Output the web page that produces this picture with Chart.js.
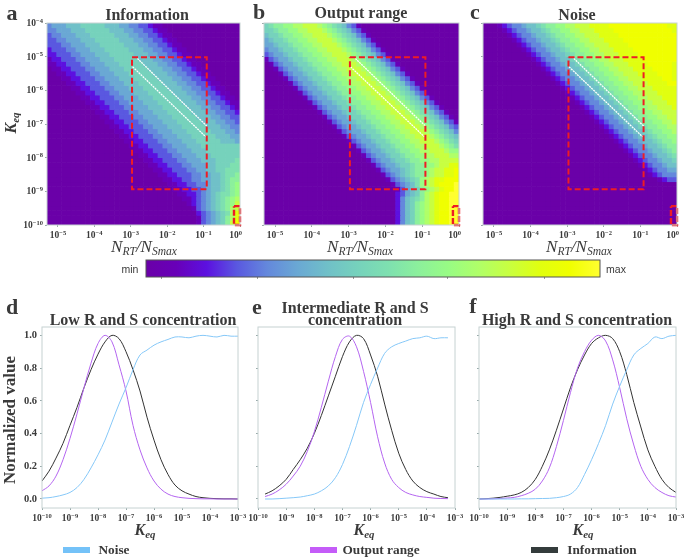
<!DOCTYPE html>
<html>
<head>
<meta charset="utf-8">
<script src="https://cdn.jsdelivr.net/npm/chart.js@4"></script>
<style>
  body { margin: 0; background: #fff; }
  #page { position: relative; width: 685px; height: 558px; overflow: hidden; filter: blur(0.35px); }
  canvas { position: absolute; }
  .t { position: absolute; transform: translate(-50%, -50%); white-space: nowrap; font-family: "Liberation Serif", serif; color: #3a3a3a; font-weight: bold; }
  .t sub { font-size: 68%; vertical-align: -0.3em; line-height: 0; }
  .rot { transform: translate(-50%, -50%) rotate(-90deg); }
  .swatch { position: absolute; height: 6px; width: 27px; }
</style>
</head>
<body>
<div id="page"></div>
<script>
// Heatmap values, one string per row from top (Keq 1e-4) to bottom (1e-10), one hex level per cell
const infoRows = [
  "4555666777 7766655443 3211000000 0000000000",
  "4455566677 7776665544 3321100000 0000000000",
  "3445556667 7777666554 4332110000 0000000000",
  "3344555666 7777766655 4433211000 0000000000",
  "3334455566 6777776665 5443321100 0000000000",
  "2333445556 6677777666 5544332110 0000000000",
  "2233344555 6667777766 6554433211 0000000000",
  "1223334455 5666777776 6655443321 1000000000",
  "1122333445 5566677777 6665544332 1100000000",
  "0112233344 5556667777 7666554433 2110000000",
  "0011223334 4555666777 7766655443 3211000000",
  "0001122333 4455566677 7776665544 3321100000",
  "0000112233 3445556667 7777666554 4332110000",
  "0000011223 3344555666 7777766655 4433211000",
  "0000001122 3334455566 6777776665 5443321100",
  "0000000112 2333445556 6677777666 5544332110",
  "0000000011 2233344555 6667777766 6554433211",
  "0000000001 1223334455 5666777776 6655443321",
  "0000000000 1122333445 5566677777 6665544332",
  "0000000000 0112233344 5556667777 7666554433",
  "0000000000 0011223334 4555666777 7766655443",
  "0000000000 0001122333 4455566677 7776665544",
  "0000000000 0000112233 3445556667 7777666554",
  "0000000000 0000011223 3344555666 7777766655",
  "0000000000 0000001122 3334455566 6777776665",
  "0000000000 0000000112 2333445556 6677777777",
  "0000000000 0000000011 2233344555 6667777777",
  "0000000000 0000000001 1223334455 5666777777",
  "0000000000 0000000000 1122333445 5566677778",
  "0000000000 0000000000 0112233344 5556677788",
  "0000000000 0000000000 0011223334 4556677888",
  "0000000000 0000000000 0001122333 4455667889",
  "0000000000 0000000000 0000112233 4455667899",
  "0000000000 0000000000 0000011223 344566789a",
  "0000000000 0000000000 0000001122 334566789a",
  "0000000000 0000000000 0000000112 234567889a",
  "0000000000 0000000000 0000000011 23456789ab",
  "0000000000 0000000000 0000000001 23456789ac",
  "0000000000 0000000000 0000000000 13456789bc",
  "0000000000 0000000000 0000000000 02345678bd",
  "0000000000 0000000000 0000000000 01345679bd",
  "0000000000 0000000000 0000000000 01345679ce"
];
const rangeRows = [
  "7899aabbcc cba9876431 0000000000 0000000000",
  "77899aabbc ccba987643 1000000000 0000000000",
  "677899aabb cccba98764 3100000000 0000000000",
  "5677899aab bcccba9876 4310000000 0000000000",
  "55677899aa bbcccba987 6431000000 0000000000",
  "455677899a abbcccba98 7643100000 0000000000",
  "3455677899 aabbcccba9 8764310000 0000000000",
  "1345567789 9aabbcccba 9876431000 0000000000",
  "0134556778 99aabbcccb a987643100 0000000000",
  "0013455677 899aabbccc ba98764310 0000000000",
  "0001345567 7899aabbcc cba9876431 0000000000",
  "0000134556 77899aabbc ccba987643 1000000000",
  "0000013455 677899aabb cccba98764 3100000000",
  "0000001345 5677899aab bcccba9876 4310000000",
  "0000000134 55677899aa bbcccba987 6431000000",
  "0000000013 455677899a abbcccba98 7643100000",
  "0000000001 3455677899 aabbcccba9 8764310000",
  "0000000000 1345567789 9aabbcccba 9876431000",
  "0000000000 0134556778 99aabbcccb a987643100",
  "0000000000 0013455677 899aabbccc ba98764310",
  "0000000000 0001345567 7899aabbcc cba9876431",
  "0000000000 0000134556 77899aabbc ccba987643",
  "0000000000 0000013455 677899aabb cccba98764",
  "0000000000 0000001345 5677899aab bcccba9876",
  "0000000000 0000000134 55677899aa bbcccba987",
  "0000000000 0000000013 455677899a abbcccba98",
  "0000000000 0000000001 3455677899 aabbcccbaa",
  "0000000000 0000000000 1345567789 9aabbcccbb",
  "0000000000 0000000000 0134556778 99aabbcccc",
  "0000000000 0000000000 0013455677 899aabccdd",
  "0000000000 0000000000 0001345567 899abccdde",
  "0000000000 0000000000 0000134567 899abccdde",
  "0000000000 0000000000 0000013456 78abcddeee",
  "0000000000 0000000000 0000001345 68abcdeeef",
  "0000000000 0000000000 0000000135 679abcdeef",
  "0000000000 0000000000 0000000235 679bcdeeff",
  "0000000000 0000000000 0000000246 789bcdeeff",
  "0000000000 0000000000 0000000246 79abcdeeff",
  "0000000000 0000000000 0000000246 79abcdeeff",
  "0000000000 0000000000 0000000246 79abcdeeff",
  "0000000000 0000000000 0000000246 79abcdeeff",
  "0000000000 0000000000 0000000246 79abcdeeff"
];
const noiseRows = [
  "0001234456 67899aabbc ccddddeeee eeeeeeeedd",
  "0000123445 667899aabb cccddddeee eeeeeeeeed",
  "0000012344 5667899aab bcccddddee eeeeeeeeee",
  "0000001234 45667899aa bbcccdddde eeeeeeeeee",
  "0000000123 445667899a abbcccdddd eeeeeeeeee",
  "0000000012 3445667899 aabbcccddd deeeeeeeee",
  "0000000001 2344566789 9aabbcccdd ddeeeeeeee",
  "0000000000 1234456678 99aabbcccd dddeeeeeee",
  "0000000000 0123445667 899aabbccc ddddeeeeed",
  "0000000000 0012344566 7899aabbcc cddddeeeed",
  "0000000000 0001234456 67899aabbc ccddddeeed",
  "0000000000 0000123445 667899aabb cccddddeed",
  "0000000000 0000012344 5667899aab bcccddddee",
  "0000000000 0000001234 45667899aa bbcccddddd",
  "0000000000 0000000123 445667899a abbcccdddd",
  "0000000000 0000000012 3445667899 aabbcccddd",
  "0000000000 0000000001 2344566789 9aabbcccdd",
  "0000000000 0000000000 1234456678 99aabbcccd",
  "0000000000 0000000000 0123445667 899aabbccc",
  "0000000000 0000000000 0012344566 7899aabbcc",
  "0000000000 0000000000 0001234456 67899aabbc",
  "0000000000 0000000000 0000123445 667899aabb",
  "0000000000 0000000000 0000012344 5667899aab",
  "0000000000 0000000000 0000001234 45667899aa",
  "0000000000 0000000000 0000000123 445667899a",
  "0000000000 0000000000 0000000012 3445667899",
  "0000000000 0000000000 0000000001 2344566789",
  "0000000000 0000000000 0000000000 1234456678",
  "0000000000 0000000000 0000000000 0123445667",
  "0000000000 0000000000 0000000000 0012344566",
  "0000000000 0000000000 0000000000 0001234455",
  "0000000000 0000000000 0000000000 0000123444",
  "0000000000 0000000000 0000000000 0000001233",
  "0000000000 0000000000 0000000000 0000000000",
  "0000000000 0000000000 0000000000 0000000000",
  "0000000000 0000000000 0000000000 0000000000",
  "0000000000 0000000000 0000000000 0000000000",
  "0000000000 0000000000 0000000000 0000000000",
  "0000000000 0000000000 0000000000 0000000000",
  "0000000000 0000000000 0000000000 0000000000",
  "0000000000 0000000000 0000000000 0000000000",
  "0000000000 0000000000 0000000000 0000000000"
];

// Colours for levels 0..f, same list makes the colour bar
const levelColors = ["#6a00a8", "#6800b8", "#5c10e0", "#5a58e0", "#6488dc", "#6aa8d4", "#70c0c8", "#76d2bc",
  "#7ee0b0", "#8cf09c", "#98fc84", "#b0ff68", "#c8ff40", "#e0ff10", "#f0ff00", "#ffff30"];

// Axis ticks, exponents of ten
const heatXTicks = [-5, -4, -3, -2, -1, 0];
const heatYTicks = [-4, -5, -6, -7, -8, -9, -10];
const keqTicks = [-10, -9, -8, -7, -6, -5, -4, -3];
const normTicks = [0, 0.2, 0.4, 0.6, 0.8, 1];
const normLabels = ["0.0", "0.2", "0.4", "0.6", "0.8", "1.0"];

// Overlays on the heatmaps, in log10 units
const boxX = [-2.965, -0.913, -0.913, -2.965, -2.965];
const boxY = [-5.02, -5.02, -8.94, -8.94, -5.02];
const cornerX = [-0.165, 0, 0, -0.165, -0.165];
const cornerY = [-9.44, -9.44, -10, -10, -9.44];
const upperX = [-2.82, -0.913];
const upperY = [-5.05, -7.06];
const lowerX = [-2.95, -0.94];
const lowerY = [-5.3, -7.38];

// Line panels
const keqFull = [-10, -9.75, -9.5, -9.25, -9, -8.75, -8.5, -8.25, -8, -7.75, -7.5, -7.25, -7, -6.75, -6.5, -6.25, -6, -5.75, -5.5, -5.25, -5, -4.75, -4.5, -4.25, -4, -3.75, -3.5, -3.25, -3];
const keqMid = [-9.75, -9.5, -9.25, -9, -8.75, -8.5, -8.25, -8, -7.75, -7.5, -7.25, -7, -6.75, -6.5, -6.25, -6, -5.75, -5.5, -5.25, -5, -4.75, -4.5, -4.25, -4, -3.75, -3.5, -3.25];

const infoLow = [.11, .17, .25, .34, .45, .56, .68, .79, .885, .96, 1, .98, .9, .79, .66, .5, .36, .24, .15, .085, .05, .03, .015, .008, .004, .002, .001, .001, 0];
const rangeLow = [.05, .08, .14, .24, .37, .52, .68, .83, .95, 1, .96, .82, .66, .45, .3, .19, .11, .06, .03, .015, .008, .004, .002, .001, .001, 0, 0, 0, 0];
const noiseLow = [.005, .008, .015, .025, .04, .07, .12, .19, .27, .36, .47, .58, .68, .79, .88, .91, .94, .96, .975, .99, .99, .985, .995, 1, .995, .99, 1, .995, .995];

const infoMid = [.03, .05, .08, .12, .18, .24, .31, .4, .51, .63, .75, .87, .96, 1, .98, .88, .75, .58, .42, .28, .18, .11, .07, .045, .03, .015, .008];
const rangeMid = [.015, .03, .055, .09, .14, .2, .29, .41, .56, .72, .87, .975, .995, .93, .78, .59, .38, .22, .12, .07, .04, .025, .015, .01, .005, .003, .002];
const noiseMid = [0, 0, .002, .005, .008, .012, .02, .03, .05, .08, .13, .21, .32, .45, .59, .7, .8, .89, .93, .95, .965, .98, .985, .995, .98, .985, .985];

const infoHigh = [0, .002, .005, .01, .017, .025, .04, .07, .12, .2, .3, .42, .55, .68, .79, .88, .95, .985, 1, .98, .9, .76, .59, .44, .3, .2, .12, .07, .04];
const rangeHigh = [0, 0, .001, .003, .006, .01, .02, .035, .06, .11, .19, .32, .48, .65, .8, .9, .97, 1, .965, .85, .68, .49, .33, .2, .12, .07, .04, .02, .012];
const noiseHigh = [0, 0, 0, 0, 0, 0, .001, .001, .002, .003, .004, .008, .015, .03, .07, .15, .24, .34, .45, .58, .69, .79, .88, .92, .95, .99, .98, .995, 1];

const page = document.getElementById('page');
const serif = '"Liberation Serif", serif';
const tickColor = '#3a3a3a';
const frameColor = '#c6d2d2';

// Draws the box round the plot
const framePlugin = {
  id: 'frame',
  afterDatasetsDraw(chart, args, opts) {
    const a = chart.chartArea, c = chart.ctx;
    c.save();
    c.strokeStyle = opts.color || frameColor;
    c.lineWidth = 1;
    c.strokeRect(a.left, a.top, a.right - a.left, a.bottom - a.top);
    c.restore();
  }
};

// Tick labels of the form 10^n, with the exponent raised and smaller
const powersPlugin = {
  id: 'powers',
  afterDraw(chart, args, opts) {
    const c = chart.ctx, a = chart.chartArea;
    const mainFont = 'bold 9.5px ' + serif, supFont = 'bold 6.5px ' + serif;
    c.save();
    c.fillStyle = tickColor;
    c.textBaseline = 'alphabetic';
    function label(exp, x, y, anchor) {
      const sup = String(exp).replace('-', '\u2212');
      c.font = mainFont;
      const w1 = c.measureText('10').width;
      c.font = supFont;
      const w2 = c.measureText(sup).width;
      let left = x - (w1 + w2) / 2;
      if (anchor === 'right') left = x - w1 - w2;
      if (anchor === 'clamp') left = Math.min(left, a.right + 2 - w1 - w2);
      c.textAlign = 'left';
      c.font = mainFont;
      c.fillText('10', left, y);
      c.font = supFont;
      c.fillText(sup, left + w1, y - 3.5);
    }
    if (opts.x) {
      chart.scales.x.ticks.forEach(t => {
        label(t.value, chart.scales.x.getPixelForValue(t.value), a.bottom + 13, opts.clamp ? 'clamp' : 'center');
      });
    }
    if (opts.y) {
      chart.scales.y.ticks.forEach(t => {
        label(t.value, a.left - 4, chart.scales.y.getPixelForValue(t.value) + 3, 'right');
      });
    }
    c.restore();
  }
};
Chart.register(framePlugin, powersPlugin);

function addText(html, x, y, size, extra) {
  const d = document.createElement('div');
  d.className = 't' + (extra && extra.rot ? ' rot' : '');
  d.innerHTML = html;
  d.style.left = x + 'px';
  d.style.top = y + 'px';
  d.style.fontSize = size + 'px';
  if (extra && extra.css) d.style.cssText += extra.css;
  page.appendChild(d);
}

function zip(xs, ys) {
  return xs.map((x, i) => ({ x: x, y: ys[i] }));
}

// Canvas laid out so the plot area lands on the given rectangle
function makeChart(rect, datasets, xOpts, yOpts, powers, type) {
  const m = { l: 44, r: 22, t: 8, b: 24 };
  const cv = document.createElement('canvas');
  const w = rect.right - rect.left + m.l + m.r;
  const h = rect.bottom - rect.top + m.t + m.b;
  cv.width = w; cv.height = h;
  cv.style.left = (rect.left - m.l) + 'px';
  cv.style.top = (rect.top - m.t) + 'px';
  cv.style.width = w + 'px';
  cv.style.height = h + 'px';
  page.appendChild(cv);
  return new Chart(cv, {
    type: type || 'bar',
    data: { datasets: datasets },
    options: {
      responsive: false,
      animation: false,
      events: [],
      layout: { padding: { left: 0, right: m.r, top: m.t, bottom: 0 } },
      plugins: { legend: { display: false }, tooltip: { enabled: false }, frame: {}, powers: powers },
      scales: {
        x: Object.assign({
          type: 'linear', offset: false,
          grid: { offset: false, drawOnChartArea: false, tickLength: 2, color: '#9aa' },
          border: { display: false },
          afterFit: s => { s.height = m.b; s.paddingLeft = 0; s.paddingRight = 0; }
        }, xOpts),
        y: Object.assign({
          type: 'linear',
          grid: { drawOnChartArea: false, tickLength: 2, color: '#9aa' },
          border: { display: false },
          afterFit: s => { s.width = m.l; s.paddingTop = 0; s.paddingBottom = 0; }
        }, yOpts)
      }
    }
  });
}

// Tick marks only, the labels come from the powers plugin or the given list
function axisTicks(values, labels) {
  return {
    afterBuildTicks: s => { s.ticks = values.map(v => ({ value: v })); },
    ticks: {
      display: !!labels,
      autoSkip: false, maxRotation: 0, minRotation: 0, padding: 3,
      color: tickColor, font: { family: serif, size: 10.5, weight: 'bold' },
      callback: v => labels ? labels[values.indexOf(v)] : ''
    }
  };
}

const heatXMin = -5.3, heatXMax = 0, heatYMin = -10, heatYMax = -4;

function overlay(xs, ys, color, width, dash) {
  return { type: 'line', data: zip(xs, ys), borderColor: color, borderWidth: width, borderDash: dash,
    pointRadius: 0, tension: 0, clip: false, order: 0 };
}

function heatPanel(rows, rect, showY) {
  const nRows = rows.length, nCols = 40;
  const cw = (heatXMax - heatXMin) / nCols, ch = (heatYMax - heatYMin) / nRows;
  const sets = [
    overlay(boxX, boxY, '#ee1c25', 2, [6, 3]),
    overlay(cornerX, cornerY, '#ee1c25', 2.4, [6, 2]),
    overlay(upperX, upperY, '#ffffff', 1.3, [2, 0.8]),
    overlay(lowerX, lowerY, '#ffffff', 1.3, [2, 0.8])
  ];
  rows.forEach((row, r) => {
    const cells = row.replace(/ /g, '');
    const data = [], colors = [];
    for (let c = 0; c < nCols; c++) {
      const top = heatYMax - r * ch;
      data.push({ x: heatXMin + (c + 0.5) * cw, y: [top - ch, top] });
      colors.push(levelColors[parseInt(cells.charAt(c), 16)]);
    }
    sets.push({ data: data, backgroundColor: colors, grouped: false, categoryPercentage: 1, barPercentage: 1, order: 1 });
  });
  makeChart(rect, sets,
    Object.assign({ min: heatXMin, max: heatXMax }, axisTicks(heatXTicks)),
    Object.assign({ min: heatYMin, max: heatYMax }, axisTicks(heatYTicks)),
    { x: true, y: showY, clamp: true });
}

function linePanel(xs, info, range, noise, rect, showY) {
  const line = (ys, color) => ({ data: zip(xs, ys), borderColor: color, borderWidth: 1, pointRadius: 0, tension: 0.35 });
  makeChart(rect, [line(noise, '#86c8f8'), line(range, '#b465f0'), line(info, '#333333')],
    Object.assign({ min: -10, max: -3 }, axisTicks(keqTicks)),
    Object.assign({ min: -0.055, max: 1.051 }, axisTicks(normTicks, showY ? normLabels : null)),
    { x: true, y: false }, 'line');
}

heatPanel(infoRows, { left: 47, right: 240, top: 23, bottom: 225 }, true);
heatPanel(rangeRows, { left: 264, right: 459, top: 23, bottom: 225 }, false);
heatPanel(noiseRows, { left: 483, right: 677, top: 23, bottom: 225 }, false);

linePanel(keqFull, infoLow, rangeLow, noiseLow, { left: 42, right: 238, top: 327, bottom: 508 }, true);
linePanel(keqMid, infoMid, rangeMid, noiseMid, { left: 258, right: 455, top: 327, bottom: 508 }, false);
linePanel(keqFull, infoHigh, rangeHigh, noiseHigh, { left: 479, right: 676, top: 327, bottom: 508 }, false);

// Colour bar
const barTickStops = [0.035, 0.246, 0.456, 0.665, 0.878];
(function () {
  const cv = document.createElement('canvas');
  cv.width = 470; cv.height = 24;
  cv.style.left = '138px'; cv.style.top = '256px';
  cv.style.width = '470px'; cv.style.height = '24px';
  page.appendChild(cv);
  new Chart(cv, {
    type: 'bar',
    data: {
      labels: ['bar'],
      datasets: [{
        data: [[0, 1]],
        categoryPercentage: 1,
        barPercentage: 1,
        backgroundColor: ctx => {
          const a = ctx.chart.chartArea;
          if (!a) return levelColors[0];
          const g = ctx.chart.ctx.createLinearGradient(a.left, 0, a.right, 0);
          levelColors.forEach((col, i) => g.addColorStop(i / (levelColors.length - 1), col));
          return g;
        }
      }]
    },
    options: {
      indexAxis: 'y',
      responsive: false,
      animation: false,
      events: [],
      layout: { padding: { left: 8, right: 8, top: 4, bottom: 0 } },
      plugins: { legend: { display: false }, tooltip: { enabled: false }, frame: { color: '#555' } },
      scales: {
        x: {
          type: 'linear', min: 0, max: 1,
          afterBuildTicks: s => { s.ticks = barTickStops.map(v => ({ value: v })); },
          grid: { drawOnChartArea: false, tickLength: 2, color: '#999' },
          border: { display: false },
          ticks: { display: false },
          afterFit: s => { s.height = 3; }
        },
        y: { display: false }
      }
    }
  });
})();
addText('min', 130, 269, 10.5, { css: 'font-family:"Liberation Sans",sans-serif;font-weight:normal;' });
addText('max', 616, 269, 10.5, { css: 'font-family:"Liberation Sans",sans-serif;font-weight:normal;' });

// Panel letters
addText('a', 12, 13, 22);
addText('b', 259, 12, 22);
addText('c', 475, 12, 22);
addText('d', 12, 307, 22);
addText('e', 257, 307, 22);
addText('f', 473, 306, 22);

// Titles
addText('Information', 147, 15, 16);
addText('Output range', 361, 13, 16);
addText('Noise', 577, 15, 16);
addText('Low R and S concentration', 143, 320, 16);
addText('Intermediate R and S', 355, 308, 16);
addText('concentration', 355, 320, 16);
addText('High R and S concentration', 577, 320, 16);

// Axis titles
const nAxis = '<i style="font-weight:normal">N<sub>RT</sub>/N<sub>Smax</sub></i>';
addText(nAxis, 144, 247, 17);
addText(nAxis, 360, 247, 17);
addText(nAxis, 579, 247, 17);
addText('<i>K<sub>eq</sub></i>', 11, 123, 16, { rot: true });
addText('Normalized value', 10, 420, 17, { rot: true });
addText('<i>K<sub>eq</sub></i>', 145, 530, 16);
addText('<i>K<sub>eq</sub></i>', 364, 530, 16);
addText('<i>K<sub>eq</sub></i>', 583, 530, 16);

// Legend, one entry under each line panel
[[63, '#74c2f8', 'Noise', 114], [310, '#c45cf8', 'Output range', 381], [531, '#343c3c', 'Information', 602]].forEach(e => {
  const s = document.createElement('div');
  s.className = 'swatch';
  s.style.left = e[0] + 'px';
  s.style.top = '547px';
  s.style.background = e[1];
  page.appendChild(s);
  addText(e[2], e[3], 550, 13.3);
});
</script>
</body>
</html>
